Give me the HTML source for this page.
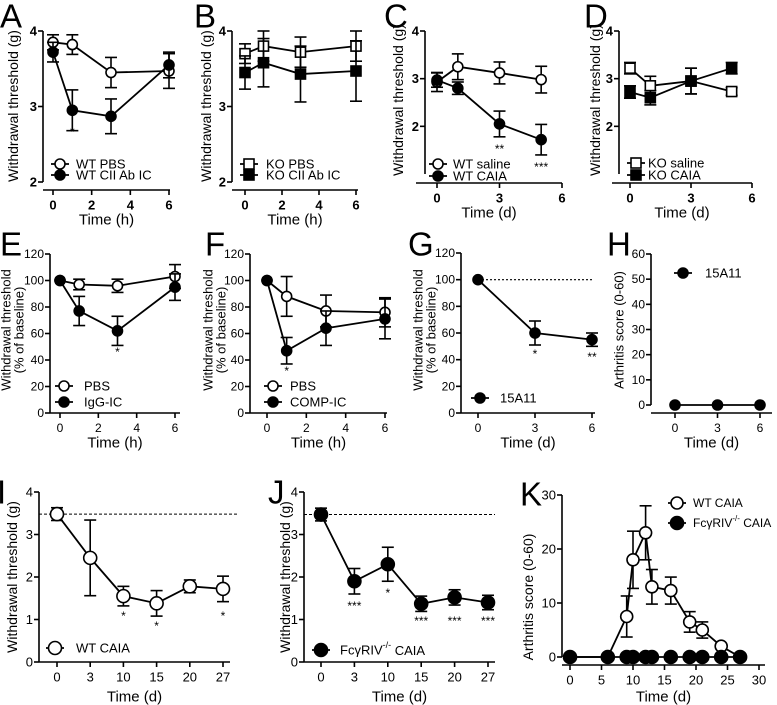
<!DOCTYPE html>
<html><head><meta charset="utf-8"><style>
html,body{margin:0;padding:0;background:#fff;}
svg{display:block;font-family:"Liberation Sans",sans-serif;}
</style></head><body>
<svg id="fig" width="777" height="705" viewBox="0 0 777 705" xmlns="http://www.w3.org/2000/svg"></svg>
<script>
// ---- data ----
const A_time=[0,1,3,6];
const A_pbs=[3.85,3.82,3.45,3.47], A_pbs_err=[0.1,0.13,0.2,0.23];
const A_cii=[3.72,2.95,2.87,3.55], A_cii_err=[0.13,0.27,0.23,0.17];
const B_time=[0,1,3,6];
const B_pbs=[3.7,3.8,3.72,3.8], B_pbs_err=[0.13,0.2,0.2,0.2];
const B_cii=[3.45,3.58,3.43,3.47], B_cii_err=[0.22,0.32,0.37,0.4];
const C_time=[0,1,3,5];
const C_saline=[2.93,3.25,3.12,2.98], C_saline_err=[0.2,0.27,0.23,0.28];
const C_caia=[2.97,2.8,2.05,1.72], C_caia_err=[0.15,0.13,0.27,0.32];
const D_time=[0,1,3,5];
const D_saline=[3.22,2.85,2.95,2.73], D_saline_err=[0.12,0.2,0.27,0.08];
const D_caia=[2.72,2.6,2.95,3.22], D_caia_err=[0.13,0.15,0.27,0.12];
const E_time=[0,1,3,6];
const E_pbs=[100,97,96,103], E_pbs_err=[0,4,5,9];
const E_igg=[100,77,62,95], E_igg_err=[0,11,11,10];
const F_time=[0,1,3,6];
const F_pbs=[100,88,77,76], F_pbs_err=[0,15,12,11];
const F_comp=[100,47,64,71], F_comp_err=[0,10,13,15];
const G_time=[0,3,6];
const G_vals=[100,60,55], G_err=[0,9,5];
const H_time=[0,3,6];
const H_vals=[0,0,0];
const IJ_cats=['0','3','10','15','20','27'];
const I_vals=[3.48,2.45,1.55,1.38,1.78,1.72], I_err=[0.15,0.89,0.23,0.3,0.15,0.3];
const J_vals=[3.47,1.9,2.3,1.37,1.52,1.4], J_err=[0.15,0.3,0.4,0.18,0.18,0.17];
const K_time=[0,6,9,10,12,13,16,19,21,24,27];
const K_wt=[0,0,7.5,18,23,13,12.3,6.5,5,2,0], K_wt_err=[0,0,3.8,5.3,5,3.2,2.5,1.9,1.5,0,0];
const K_ko=[0,0,0,0,0,0,0,0,0,0,0];
const K_xticks=[0,5,10,15,20,25,30];
const K_yticks=[0,10,20,30];

const svg=document.getElementById('fig');
const NS='http://www.w3.org/2000/svg';
function mk(tag,attrs,name,parent){
  const e=document.createElementNS(NS,tag);
  for(const k in attrs)e.setAttribute(k,attrs[k]);
  
  
  (parent||svg).appendChild(e);return e;
}
function txt(x,y,s,size,name,opt){
  opt=opt||{};
  const t=mk('text',{x:x,y:y,'font-size':size,'text-anchor':opt.anchor||'middle','dominant-baseline':'central',fill:'#000','font-weight':opt.bold?'bold':'normal'},name,opt.parent);
  if(opt.rot)t.setAttribute('transform','rotate(-90 '+x+' '+y+')');
  t.textContent=s;return t;
}
function line(x1,y1,x2,y2,name,w,dash,parent){
  const l=mk('line',{x1:x1,y1:y1,x2:x2,y2:y2,stroke:'#000','stroke-width':w||1.6},name,parent);
  if(dash)l.setAttribute('stroke-dasharray',dash);return l;
}
function marker(x,y,type,r,name,parent){
  if(type==='oc'||type==='fc')return mk('circle',{cx:x,cy:y,r:r,fill:type==='fc'?'#000':'#fff',stroke:'#000','stroke-width':1.6},name,parent);
  return mk('rect',{x:x-r,y:y-r,width:2*r,height:2*r,fill:type==='fs'?'#000':'#fff',stroke:'#000','stroke-width':1.6},name,parent);
}
function makeAxes(p){
  const g=mk('g',{},p.id+'-panel');
  p.g=g;
  p.X=v=>p.x0+(v-p.xmin)*(p.x1-p.x0)/(p.xmax-p.xmin);
  p.Y=v=>p.yb+(v-p.ymin)*(p.yt-p.yb)/(p.ymax-p.ymin);
  line(p.ax,p.Y(p.ymax),p.ax,p.Y(p.ymin),p.id+'-y-axis',1.6,null,g);
  p.yticks.forEach(v=>{
    line(p.ax-5,p.Y(v),p.ax,p.Y(v),p.id+'-y-tick',1.6,null,g);
    txt(p.ax-6,p.Y(v),String(v),p.tfs||13,p.id+'-y-tick-label',{anchor:'end',bold:p.bold,parent:g});
  });
  line(p.xs,p.xay,p.xe,p.xay,p.id+'-x-axis',1.6,null,g);
  p.xticks.forEach((v,i)=>{
    const x=p.cat?p.catx(i):p.X(v);
    line(x,p.xay,x,p.xay+5,p.id+'-x-tick',1.6,null,g);
    txt(x,p.xay+15,String(v),p.tfs||13,p.id+'-x-tick-label',{bold:p.bold,parent:g});
  });
  txt((p.xs+p.xe)/2,p.xay+(p.tdy||30),p.xtitle,15,p.id+'-x-axis-title',{parent:g});
  const yfs=p.yfs||14;
  if(p.ytitle2){
    txt(p.ylx,p.ylc,p.ytitle,yfs,p.id+'-y-axis-title',{rot:true,parent:g});
    txt(p.ylx+13,p.ylc,p.ytitle2,yfs,p.id+'-y-axis-title-line2',{rot:true,parent:g});
  } else txt(p.ylx,p.ylc,p.ytitle,yfs,p.id+'-y-axis-title',{rot:true,parent:g});
  txt(p.lx,p.ly,p.letter,33,p.id+'-panel-letter',{anchor:'start',parent:g});
}
function series(p,xs,vals,errs,type,r,name,useCat){
  const g=mk('g',{},name,p.g);
  const px=i=>useCat?p.catx(i):p.X(xs[i]);
  const pts=vals.map((v,i)=>px(i)+','+p.Y(v)).join(' ');
  mk('polyline',{points:pts,fill:'none',stroke:'#000','stroke-width':1.8},name+'-line',g);
  vals.forEach((v,i)=>{
    const e=errs?errs[i]:0;
    if(e>0){
      const x=px(i);
      line(x,p.Y(v+e),x,p.Y(v-e),name+'-error-bar',1.6,null,g);
      line(x-6,p.Y(v+e),x+6,p.Y(v+e),name+'-error-cap',1.6,null,g);
      line(x-6,p.Y(v-e),x+6,p.Y(v-e),name+'-error-cap',1.6,null,g);
    }
  });
  vals.forEach((v,i)=>marker(px(i),p.Y(v),type,r,name+'-point',g));
}
function legend(p,x,tx,y,label,type,r,name,fs){
  const g=mk('g',{},name,p.g);
  line(x-9,y,x+9,y,name+'-line',1.8,null,g);
  marker(x,y,type,r,name+'-marker',g);
  const t=txt(tx,y,'',fs||13,name+'-label',{anchor:'start',parent:g});
  if(Array.isArray(label)){t.innerHTML=label[0];}else t.textContent=label;
}
function star(p,x,y,s){txt(x,y,s,12,p.id+'-significance',{parent:p.g});}

// ---- Panel A ----
const pA={id:'a',letter:'A',lx:0,ly:16,ax:43,yt:31,yb:182,ymin:2,ymax:4,yticks:[2,3,4],xs:43,xe:170,xay:190,x0:53,x1:169,xmin:0,xmax:6,xticks:[0,2,4,6],bold:true,xtitle:'Time (h)',ytitle:'Withdrawal threshold (g)',ylx:13,ylc:106};
makeAxes(pA);
series(pA,A_time,A_pbs,A_pbs_err,'oc',5,'a-wt-pbs');
series(pA,A_time,A_cii,A_cii_err,'fc',5,'a-wt-cii');
star(pA,pA.X(1),132,'*');
legend(pA,60,76,164,'WT PBS','oc',5,'a-legend-pbs');
legend(pA,60,76,175,'WT CII Ab IC','fc',5,'a-legend-cii');
// ---- Panel B ----
const pB={id:'b',letter:'B',lx:194,ly:16,ax:232,yt:31,yb:182,ymin:2,ymax:4,yticks:[2,3,4],xs:232,xe:358,xay:190,x0:245,x1:356,xmin:0,xmax:6,xticks:[0,2,4,6],bold:true,xtitle:'Time (h)',ytitle:'Withdrawal threshold (g)',ylx:206,ylc:106};
makeAxes(pB);
series(pB,B_time,B_pbs,B_pbs_err,'os',5,'b-ko-pbs');
series(pB,B_time,B_cii,B_cii_err,'fs',5,'b-ko-cii');
legend(pB,249,266,164,'KO PBS','os',5,'b-legend-pbs');
legend(pB,249,266,175,'KO CII Ab IC','fs',5,'b-legend-cii');
// ---- Panel C ----
const pC={id:'c',letter:'C',lx:384,ly:16,ax:425,yt:31,yb:174,ymin:1,ymax:4,yticks:[2,3,4],xs:416,xe:562,xay:183,x0:437,x1:562,xmin:0,xmax:6,xticks:[0,3,6],bold:true,xtitle:'Time (d)',ytitle:'Withdrawal threshold (g)',ylx:398,ylc:100};
makeAxes(pC);
series(pC,C_time,C_saline,C_saline_err,'oc',5,'c-wt-saline');
series(pC,C_time,C_caia,C_caia_err,'fc',5,'c-wt-caia');
star(pC,pC.X(3),149,'**');star(pC,pC.X(5),167,'***');
legend(pC,438,453,164,'WT saline','oc',5,'c-legend-saline');
legend(pC,438,453,176,'WT CAIA','fc',5,'c-legend-caia');
// ---- Panel D ----
const pD={id:'d',letter:'D',lx:584,ly:16,ax:619,yt:31,yb:174,ymin:1,ymax:4,yticks:[2,3,4],xs:612,xe:752,xay:183,x0:630,x1:752,xmin:0,xmax:6,xticks:[0,3,6],bold:true,xtitle:'Time (d)',ytitle:'Withdrawal threshold (g)',ylx:595,ylc:100};
makeAxes(pD);
series(pD,D_time,D_saline,D_saline_err,'os',5,'d-ko-saline');
series(pD,D_time,D_caia,D_caia_err,'fs',5,'d-ko-caia');
legend(pD,636,648,163,'KO saline','os',5,'d-legend-saline');
legend(pD,636,648,175,'KO CAIA','fs',5,'d-legend-caia');
// ---- Panel E ----
const pE={id:'e',letter:'E',lx:0,ly:244,ax:50,yt:254,yb:413,ymin:0,ymax:120,yticks:[0,20,40,60,80,100,120],xs:50,xe:180,xay:413,x0:60,x1:175,xmin:0,xmax:6,xticks:[0,2,4,6],tfs:12,yfs:13,xtitle:'Time (h)',ytitle:'Withdrawal threshold',ytitle2:'(% of baseline)',ylx:6,ylc:330};
makeAxes(pE);
series(pE,E_time,E_pbs,E_pbs_err,'oc',5,'e-pbs');
series(pE,E_time,E_igg,E_igg_err,'fc',5,'e-igg-ic');
star(pE,pE.X(3),352,'*');
legend(pE,64,84,386,'PBS','oc',5,'e-legend-pbs');
legend(pE,64,84,402,'IgG-IC','fc',5,'e-legend-igg');
// ---- Panel F ----
const pF={id:'f',letter:'F',lx:205,ly:244,ax:250,yt:254,yb:413,ymin:0,ymax:120,yticks:[0,20,40,60,80,100,120],xs:250,xe:387,xay:413,x0:267,x1:385,xmin:0,xmax:6,xticks:[0,2,4,6],tfs:12,yfs:13,xtitle:'Time (h)',ytitle:'Withdrawal threshold',ytitle2:'(% of baseline)',ylx:208,ylc:330};
makeAxes(pF);
series(pF,F_time,F_pbs,F_pbs_err,'oc',5,'f-pbs');
series(pF,F_time,F_comp,F_comp_err,'fc',5,'f-comp-ic');
star(pF,pF.X(1),371,'*');
legend(pF,273,290,386,'PBS','oc',5,'f-legend-pbs');
legend(pF,273,290,402,'COMP-IC','fc',5,'f-legend-comp');
// ---- Panel G ----
const pG={id:'g',letter:'G',lx:408,ly:244,ax:461,yt:253,yb:413,ymin:0,ymax:120,yticks:[0,20,40,60,80,100,120],xs:461,xe:595,xay:413,x0:478,x1:592,xmin:0,xmax:6,xticks:[0,3,6],tfs:12,yfs:13,xtitle:'Time (d)',ytitle:'Withdrawal threshold',ytitle2:'(% of baseline)',ylx:418,ylc:330};
makeAxes(pG);
line(pG.X(0),pG.Y(100),pG.X(6),pG.Y(100),'g-baseline-dotted',1.2,'2,2',pG.g);
series(pG,G_time,G_vals,G_err,'fc',5,'g-15a11');
star(pG,pG.X(3),354,'*');star(pG,pG.X(6),357,'**');
legend(pG,480,500,398,'15A11','fc',5,'g-legend-15a11');
// ---- Panel H ----
const pH={id:'h',letter:'H',lx:607,ly:244,ax:651,yt:254,yb:405,ymin:0,ymax:60,yticks:[0,10,20,30,40,50,60],xs:651,xe:772,xay:413,x0:675,x1:760,xmin:0,xmax:6,xticks:[0,3,6],tfs:12,yfs:13,xtitle:'Time (d)',ytitle:'Arthritis score (0-60)',ylx:619,ylc:330};
makeAxes(pH);
series(pH,H_time,H_vals,null,'fc',5,'h-15a11');
legend(pH,683,705,273,'15A11','fc',5,'h-legend-15a11');
// ---- Panel I ----
const pI={id:'i',letter:'I',lx:-3,ly:492,ax:39,yt:492,yb:662,ymin:0,ymax:4,yticks:[0,1,2,3,4],xs:39,xe:230,xay:662,tdy:35,cat:true,catx:i=>57+i*33.2,xticks:IJ_cats,xtitle:'Time (d)',ytitle:'Withdrawal threshold (g)',ylx:12,ylc:577};
makeAxes(pI);
line(39,pI.Y(3.48),239,pI.Y(3.48),'i-baseline-dashed',1,'3,2',pI.g);
series(pI,null,I_vals,I_err,'oc',6.5,'i-wt-caia',true);
star(pI,pI.catx(2),616,'*');star(pI,pI.catx(3),626,'*');star(pI,pI.catx(5),616,'*');
legend(pI,55,76,648,'WT CAIA','oc',6.5,'i-legend-wt-caia');
// ---- Panel J ----
const pJ={id:'j',letter:'J',lx:268,ly:492,ax:304,yt:492,yb:662,ymin:0,ymax:4,yticks:[0,1,2,3,4],xs:304,xe:495,xay:662,tdy:35,cat:true,catx:i=>321+i*33.4,xticks:IJ_cats,xtitle:'Time (d)',ytitle:'Withdrawal threshold (g)',ylx:285,ylc:577};
makeAxes(pJ);
line(304,pJ.Y(3.47),495,pJ.Y(3.47),'j-baseline-dashed',1,'3,2',pJ.g);
series(pJ,null,J_vals,J_err,'fc',6.5,'j-fcgr-caia',true);
star(pJ,pJ.catx(1),606,'***');star(pJ,pJ.catx(2),593,'*');star(pJ,pJ.catx(3),621,'***');star(pJ,pJ.catx(4),621,'***');star(pJ,pJ.catx(5),621,'***');
legend(pJ,321,340,650,['Fc&#947;RIV<tspan font-size="9" dy="-5">-/-</tspan><tspan dy="5"> CAIA</tspan>'],'fc',6.5,'j-legend-fcgr');
// ---- Panel K ----
const pK={id:'k',letter:'K',lx:520,ly:494,ax:562,yt:495,yb:657,ymin:0,ymax:30,yticks:K_yticks,xs:562,xe:765,xay:665,tdy:32,x0:570,x1:759,xmin:0,xmax:30,xticks:K_xticks,xtitle:'Time (d)',ytitle:'Arthritis score (0-60)',ylx:528,ylc:597};
makeAxes(pK);
series(pK,K_time,K_wt,K_wt_err,'oc',6,'k-wt-caia');
series(pK,K_time,K_ko,null,'fc',6.5,'k-fcgr-caia');
legend(pK,677,693,503,'WT CAIA','oc',6,'k-legend-wt',12);
legend(pK,677,693,523,['Fc&#947;RIV<tspan font-size="8" dy="-5">-/-</tspan><tspan dy="5"> CAIA</tspan>'],'fc',6.5,'k-legend-fcgr',12);
</script>
</body></html>
